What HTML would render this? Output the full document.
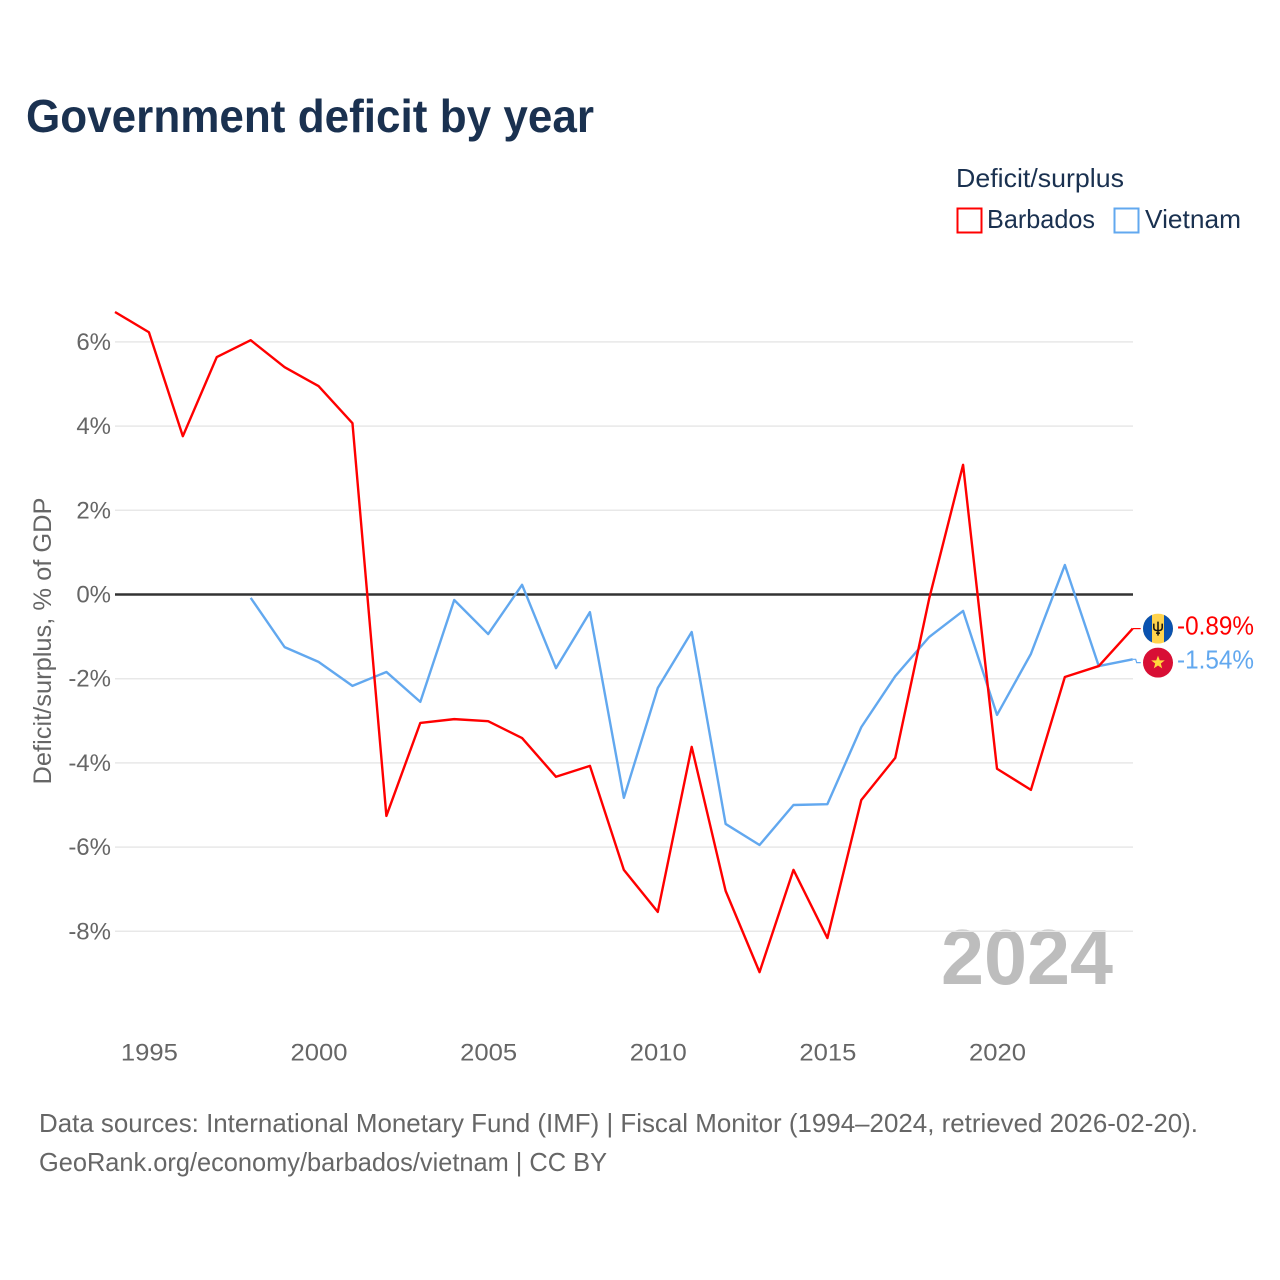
<!DOCTYPE html>
<html>
<head>
<meta charset="utf-8">
<style>
html,body{margin:0;padding:0;background:#fff;width:1280px;height:1280px;overflow:hidden}
svg{display:block}
text{font-family:"Liberation Sans",sans-serif}
</style>
</head>
<body>
<svg id="chart" width="1280" height="1280" viewBox="0 0 1280 1280" xmlns="http://www.w3.org/2000/svg">
<defs>
<clipPath id="clip-bb"><circle cx="0" cy="0" r="15"/></clipPath>
<clipPath id="clip-vn"><circle cx="0" cy="0" r="15"/></clipPath>
</defs>
<rect width="1280" height="1280" fill="#fff"/>
<text x="26" y="132" font-size="46" font-weight="700" fill="#1a3150" textLength="568" lengthAdjust="spacingAndGlyphs">Government deficit by year</text>
<text x="956" y="187" font-size="26" fill="#1a3150" textLength="168" lengthAdjust="spacingAndGlyphs">Deficit/surplus</text>
<rect x="957.5" y="208.5" width="24" height="24" fill="#fff" stroke="#ff0000" stroke-width="2"/>
<text x="987" y="228" font-size="26" fill="#1a3150" textLength="108" lengthAdjust="spacingAndGlyphs">Barbados</text>
<rect x="1114.5" y="208.5" width="24" height="24" fill="#fff" stroke="#62a8ef" stroke-width="2"/>
<text x="1145" y="228" font-size="26" fill="#1a3150" textLength="96" lengthAdjust="spacingAndGlyphs">Vietnam</text>
<text transform="translate(51,641) rotate(-90)" text-anchor="middle" font-size="25" fill="#666" textLength="287" lengthAdjust="spacingAndGlyphs">Deficit/surplus, % of GDP</text>
<text x="1113" y="984" text-anchor="end" font-size="78" font-weight="700" fill="#bdbdbd" textLength="172" lengthAdjust="spacingAndGlyphs">2024</text>
<g id="grid"></g>
<g id="yticks"></g>
<g id="xticks"></g>
<g id="series"></g>
<g id="bb-flag">
<g clip-path="url(#clip-bb)">
<rect x="-15" y="-15" width="30" height="30" fill="#ffd34d"/>
<rect x="-15" y="-15" width="9" height="30" fill="#0a52b0"/>
<rect x="6" y="-15" width="9" height="30" fill="#0a52b0"/>
<path d="M0 -7 L0 7 M-4.2 -5 L-4.2 -1 Q-4.2 2 0 2 Q4.2 2 4.2 -1 L4.2 -5 M-2 4.5 L2 4.5" fill="none" stroke="#111" stroke-width="1.5"/>
</g>
</g>
<g id="vn-flag">
<g clip-path="url(#clip-vn)">
<rect x="-15" y="-15" width="30" height="30" fill="#d80f35"/>
<polygon points="0,-7 1.8,-2.2 6.8,-2.2 2.8,0.9 4.2,5.8 0,2.9 -4.2,5.8 -2.8,0.9 -6.8,-2.2 -1.8,-2.2" fill="#ffd83d"/>
</g>
</g>
<text x="39" y="1132" font-size="26" fill="#666" textLength="1159" lengthAdjust="spacingAndGlyphs">Data sources: International Monetary Fund (IMF) | Fiscal Monitor (1994–2024, retrieved 2026-02-20).</text>
<text x="39" y="1171" font-size="26" fill="#666" textLength="568" lengthAdjust="spacingAndGlyphs">GeoRank.org/economy/barbados/vietnam | CC BY</text>
</svg>
<script>
const years = [1994,1995,1996,1997,1998,1999,2000,2001,2002,2003,2004,2005,2006,2007,2008,2009,2010,2011,2012,2013,2014,2015,2016,2017,2018,2019,2020,2021,2022,2023,2024];
const barbados = [6.71,6.23,3.76,5.64,6.04,5.40,4.95,4.07,-5.26,-3.05,-2.96,-3.01,-3.41,-4.33,-4.07,-6.54,-7.54,-3.62,-7.04,-8.97,-6.54,-8.16,-4.88,-3.88,-0.10,3.08,-4.14,-4.64,-1.96,-1.70,-0.81];
const vietnam = [null,null,null,null,-0.08,-1.25,-1.60,-2.17,-1.84,-2.55,-0.13,-0.94,0.23,-1.75,-0.42,-4.83,-2.22,-0.89,-5.45,-5.95,-5.00,-4.98,-3.15,-1.94,-1.01,-0.39,-2.86,-1.41,0.70,-1.70,-1.54];
const yTickValues = [6,4,2,-2,-4,-6,-8,0];
const xTickValues = [1995,2000,2005,2010,2015,2020];
const endLabels = ["-0.89%","-1.54%"];

const NS = "http://www.w3.org/2000/svg";
const xScale = function(v){ return 115 + (v - 1994) * (1132.7 - 115) / 30; };
const yScale = function(v){ return 594.5 - v * 42.1; };

function make(tag, parent, attrs, content){
  const el = document.createElementNS(NS, tag);
  for (const k in attrs) el.setAttribute(k, attrs[k]);
  if (content !== undefined) el.textContent = content;
  parent.appendChild(el);
  return el;
}

const grid = document.getElementById("grid");
const yticks = document.getElementById("yticks");
const xticks = document.getElementById("xticks");
const series = document.getElementById("series");

yTickValues.forEach(function(v){
  const gl = make("line", v === 0 ? series : grid, {x1:115, x2:1133, y1:yScale(v), y2:yScale(v), stroke: v === 0 ? "#333" : "#e8e8e8", "stroke-width": v === 0 ? 2.5 : 1.5});
  
  
  const t = make("text", yticks, {x:111, y:yScale(v)+8, "text-anchor":"end", "font-size":24, fill:"#666"}, v + "%");
  
  
});

xTickValues.forEach(function(v){
  const t = make("text", xticks, {x:xScale(v)+0.5, y:1060.5, "text-anchor":"middle", "font-size":24.5, fill:"#666", textLength:57, lengthAdjust:"spacingAndGlyphs"}, String(v));
  
  
});

function linePath(vals){
  let d = "";
  vals.forEach(function(v,i){
    if (v === null) return;
    d += (d === "" ? "M" : "L") + xScale(years[i]).toFixed(2) + " " + yScale(v).toFixed(2);
  });
  return d;
}

const blueLine = make("path", series, {d:linePath(vietnam), fill:"none", stroke:"#62a8ef", "stroke-width":2.4, "stroke-linejoin":"round"});


const redLine = make("path", series, {d:linePath(barbados), fill:"none", stroke:"#ff0000", "stroke-width":2.4, "stroke-linejoin":"round"});



const endRed = yScale(barbados[barbados.length-1]);
const endBlue = yScale(vietnam[vietnam.length-1]);
const labelRed = endRed;
const labelBlue = Math.max(endBlue, labelRed + 34);
const endX = xScale(2024);

const connRed = make("path", series, {d:"M"+endX+" "+endRed+"L"+(endX+3)+" "+endRed+"L"+(endX+4)+" "+labelRed+"L"+(endX+8)+" "+labelRed, fill:"none", stroke:"#ff0000", "stroke-width":1.2});


const connBlue = make("path", series, {d:"M"+endX+" "+endBlue+"L"+(endX+3)+" "+endBlue+"L"+(endX+4)+" "+labelBlue+"L"+(endX+8)+" "+labelBlue, fill:"none", stroke:"#62a8ef", "stroke-width":1.2});



document.getElementById("bb-flag").setAttribute("transform", "translate(1158,"+labelRed+")");
document.getElementById("vn-flag").setAttribute("transform", "translate(1158,"+labelBlue+")");

const valRed = make("text", series, {x:1177, y:labelRed+6, "font-size":26, fill:"#ff0000", textLength:77, lengthAdjust:"spacingAndGlyphs"}, endLabels[0]);


const valBlue = make("text", series, {x:1177, y:labelBlue+6, "font-size":26, fill:"#62a8ef", textLength:77, lengthAdjust:"spacingAndGlyphs"}, endLabels[1]);


</script>
</body>
</html>
